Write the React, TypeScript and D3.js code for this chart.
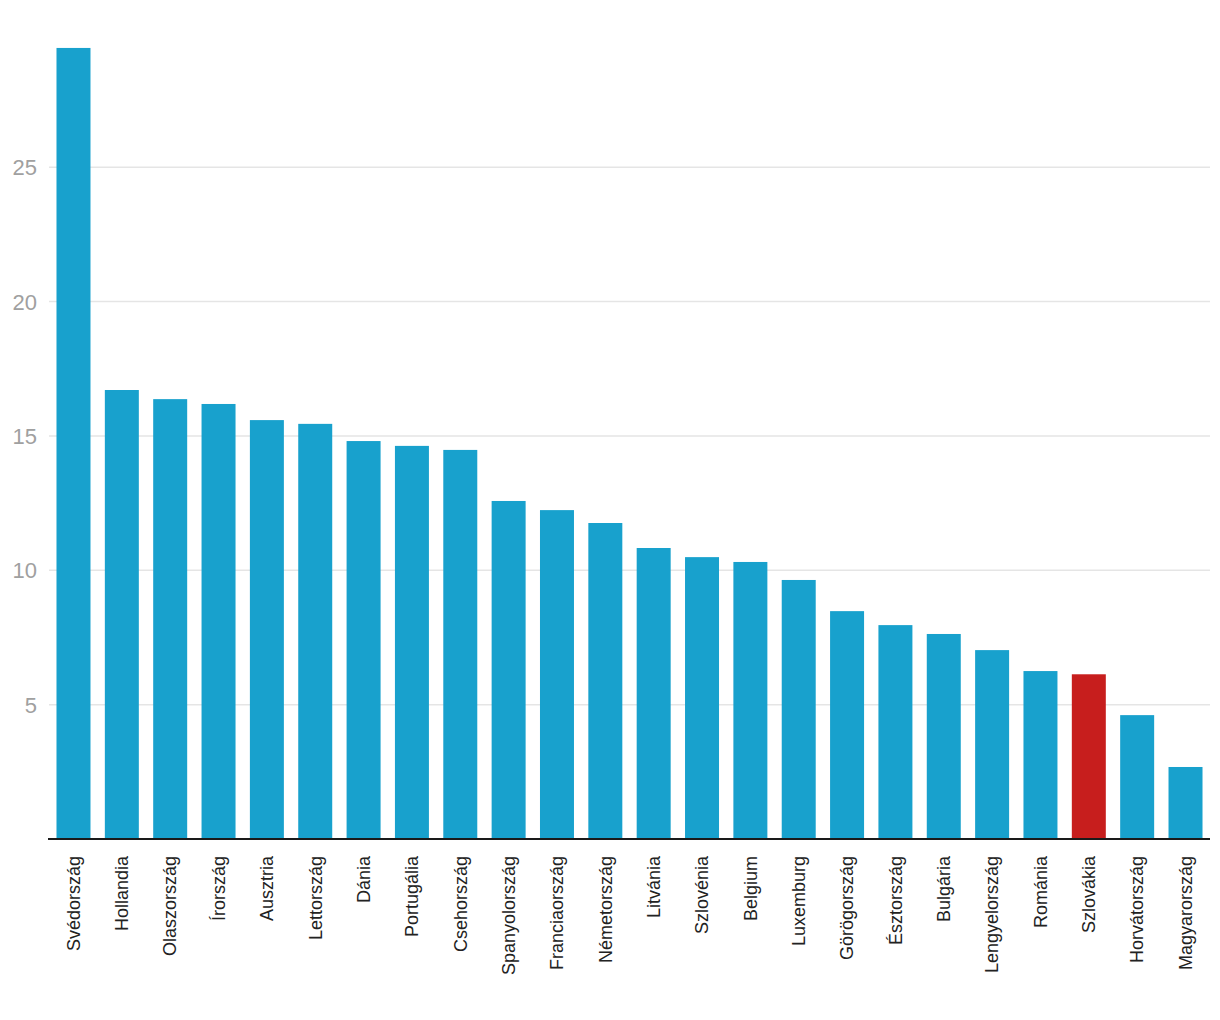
import * as d3 from "d3"
import React from "react"

const countries = [
  "Svédország", "Hollandia", "Olaszország", "Írország", "Ausztria", "Lettország",
  "Dánia", "Portugália", "Csehország", "Spanyolország", "Franciaország", "Németország",
  "Litvánia", "Szlovénia", "Belgium", "Luxemburg", "Görögország", "Észtország",
  "Bulgária", "Lengyelország", "Románia", "Szlovákia", "Horvátország", "Magyarország",
]
const values = [
  29.44, 16.71, 16.37, 16.19, 15.59, 15.45,
  14.81, 14.63, 14.48, 12.58, 12.24, 11.76,
  10.83, 10.49, 10.31, 9.64, 8.48, 7.96,
  7.63, 7.03, 6.25, 6.13, 4.61, 2.68,
]
const highlight = ["Szlovákia"]
const yTicks = [5, 10, 15, 20, 25]

const W = 1220
const H = 1020

export default function App() {
  const x = d3.scaleBand<string>()
    .domain(countries)
    .range([49, 1210])
    .paddingInner(0.297)
    .paddingOuter(0.155)

  const y = d3.scaleLinear().domain([0, 30]).range([839, 839 - 30 * 26.87])

  const font = "'Liberation Sans', Arial, sans-serif"

  return (
    <svg width={W} height={H} style={{ position: "absolute", left: 0, top: 0, background: "#fff" }}>
      {/* gridlines + tick labels */}
      {yTicks.map((t) => (
        <g key={t}>
          <line x1={49} x2={1210} y1={y(t)} y2={y(t)} stroke="#e5e5e5" strokeWidth={1.5} />
          <text x={37} y={y(t)} dy="0.36em" textAnchor="end" fontSize={22}
            fontFamily={font} fill="#a0a0a0">{t}</text>
        </g>
      ))}

      {/* bars */}
      {countries.map((c, i) => (
        <rect key={c} x={x(c)} width={x.bandwidth()} y={y(values[i])}
          height={y(0) - y(values[i]) - 1}
          fill={highlight.includes(c) ? "#c71e1d" : "#18a1cd"} />
      ))}

      {/* baseline */}
      <line x1={48} x2={1210} y1={839} y2={839} stroke="#1a1a1a" strokeWidth={2} />

      {/* x labels */}
      {countries.map((c) => {
        const cx = (x(c) as number) + x.bandwidth() / 2
        return (
          <text key={c} transform={`translate(${cx},856) rotate(-90)`} textAnchor="end"
            dy="0.35em" fontSize={18} fontFamily={font} fill="#222">{c}</text>
        )
      })}
    </svg>
  )
}
